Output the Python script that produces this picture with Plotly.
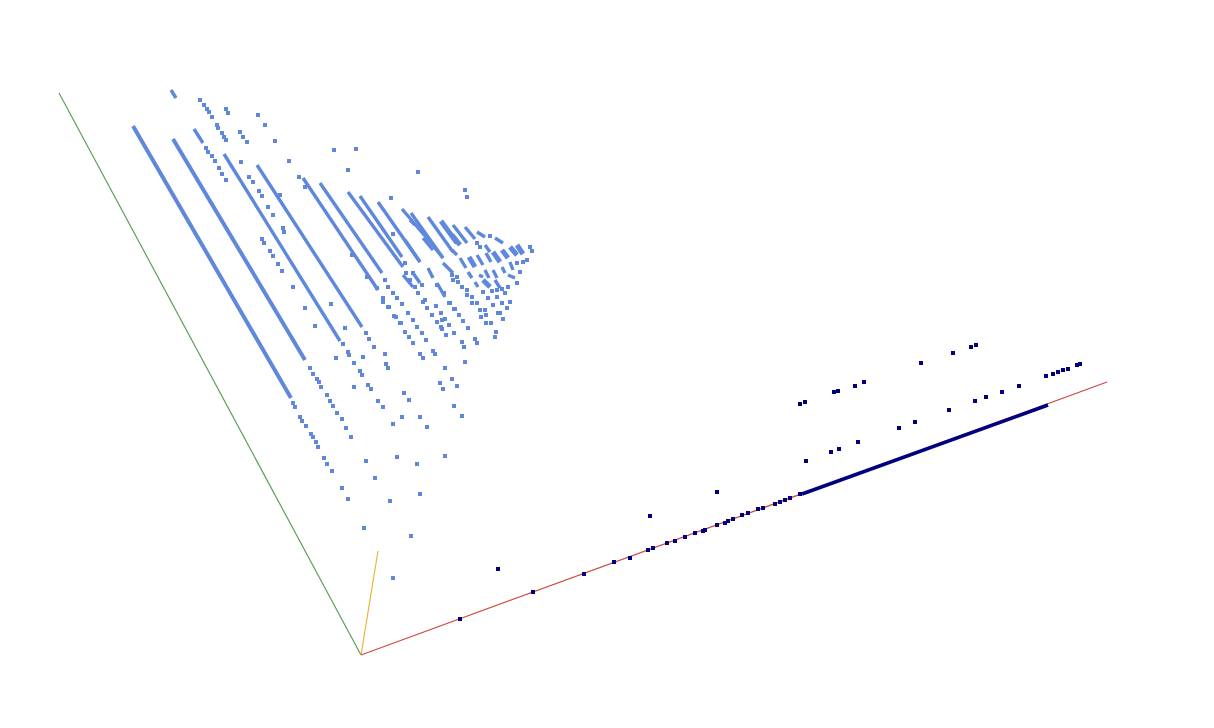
import plotly.graph_objects as go

# Values are the projected (screen-plane) coordinates of the points
axis_origin = (361, 655)
axis_x_end = (1107, 382)
axis_y_end = (59, 93)
axis_z_end = (378, 551)

thick_x = [133, 291, None, 173, 305, None]
thick_y = [126, 398, None, 139, 360, None]

streak_x = [224, 340, None, 257, 362, None, 303, 378, None, 320, 382, None, 348, 403, None, 360, 402, None,
            378, 420, None, 402, 437, None, 411, 443, None, 428, 453, None, 194, 203, None, 171, 176, None,
            453, 467, None, 465, 475, None, 477, 485, None, 495, 503, None, 485, 490, None,
            460, 466, None, 477, 483, None, 486, 491, None,
            468, 472, None, 485, 489, None, 493, 497, None, 502, 505, None,
            510, 513, None, 479, 483, None, 475, 478, None, 495, 500, None, 508, 515, None,
            443, 453, None, 428, 433, None,
            423, 433, None, 435, 443, None, 410, 415, None, 405, 420, None, 403, 413, None,
            413, 420, None, 437, 445, None, 452, 457, None]
streak_y = [154, 341, None, 165, 327, None, 178, 290, None, 183, 273, None, 192, 267, None, 196, 257, None,
            202, 262, None, 209, 250, None, 213, 258, None, 217, 252, None, 129, 143, None, 90, 98, None,
            225, 243, None, 227, 239, None, 232, 237, None, 238, 243, None, 245, 252, None,
            258, 268, None, 255, 265, None, 253, 262, None,
            272, 278, None, 270, 278, None, 270, 278, None, 267, 273, None,
            262, 270, None, 275, 277, None, 282, 287, None, 280, 288, None, 275, 278, None,
            263, 273, None, 268, 278, None,
            238, 250, None, 248, 258, None, 220, 225, None, 240, 262, None, 275, 287, None,
            273, 283, None, 283, 297, None, 250, 255, None]

blob_x = [441, 457, None, 452, 460, None, 469, 475, None, 493, 500, None, 502, 508, None, 510, 517, None,
          517, 523, None, 483, 490, None]
blob_y = [221, 243, None, 235, 245, None, 257, 267, None, 252, 262, None, 250, 258, None, 247, 255, None,
          245, 254, None, 280, 287, None]

light_x = [293, 295, 300, 302, 306, 311, 313, 316, 318, 324, 327, 332, 342, 348, 364,
           310, 313, 317, 319, 321, 327, 330, 333, 337, 342, 346, 351, 366, 375, 390, 411, 393,
           343, 348, 349, 354, 360, 362, 368, 371, 378, 383, 397, 417, 420, 445, 427, 420, 462, 454, 443, 440, 452, 457, 393, 402,
           366, 369, 374, 385, 386, 388, 404, 409, 363, 354, 336, 345, 315, 305, 331,
           200, 204, 207, 209, 212, 217, 218, 222, 224, 226, 226, 228, 258, 265, 275, 334, 240, 243, 247,
           206, 208, 212, 215, 219, 222, 226, 241, 249, 253, 259, 262, 268, 273, 283, 284, 262, 264, 270, 273, 278, 282, 293,
           289, 280, 299, 305, 356, 348, 418, 465, 467, 391, 345, 393, 352, 367,
           377, 383, 388, 394, 400, 405, 409, 413, 385, 388, 393, 397, 402, 408, 413, 417, 422, 426,
           406, 410, 415, 418, 425, 427, 436, 442, 405, 413, 422, 437, 444, 450, 454, 463, 468,
           445, 449, 442, 446, 454, 462, 475, 477, 496, 495,
           383, 389, 396, 401, 408, 423, 432, 436, 441, 449, 455, 459, 437, 441, 433, 435, 464, 465, 423, 420, 445,
           530, 532, 517, 523, 527, 520, 483, 492, 497, 502, 508, 517, 467, 472, 488, 497, 505, 472, 477, 493, 502, 510,
           480, 485, 500, 507, 481, 486, 498, 486, 491, 503, 452, 457, 453, 458, 462, 467, 490, 477, 480]
light_y = [403, 407, 417, 421, 426, 434, 437, 442, 447, 458, 464, 471, 488, 499, 528,
           368, 374, 379, 382, 387, 395, 401, 406, 413, 419, 428, 437, 461, 478, 501, 536, 578,
           344, 352, 355, 363, 371, 375, 385, 389, 401, 407, 457, 464, 494, 456, 427, 417, 416, 406, 389, 383, 379, 386, 424, 417,
           333, 339, 347, 354, 364, 368, 393, 400, 357, 387, 358, 328, 326, 308, 304,
           100, 105, 109, 112, 117, 125, 128, 133, 137, 140, 109, 113, 115, 125, 141, 150, 132, 137, 142,
           148, 152, 156, 161, 168, 174, 180, 162, 177, 182, 191, 196, 207, 215, 228, 232, 239, 243, 251, 256, 264, 271, 287,
           161, 195, 177, 187, 149, 170, 172, 190, 197, 198, 328, 234, 255, 277,
           288, 298, 307, 316, 323, 332, 337, 343, 280, 287, 293, 298, 304, 313, 320, 327, 333, 340,
           273, 280, 287, 293, 300, 308, 306, 320, 263, 273, 285, 285, 293, 303, 309, 321, 328,
           319, 325, 329, 335, 333, 342, 339, 343, 332, 337,
           302, 307, 317, 323, 313, 302, 315, 306, 313, 303, 309, 315, 322, 327, 351, 354, 347, 362, 358, 354, 368,
           247, 251, 263, 262, 260, 272, 292, 291, 290, 289, 287, 283, 295, 297, 298, 297, 293, 303, 303, 305, 303, 302,
           310, 310, 313, 308, 317, 315, 313, 323, 323, 319, 275, 277, 280, 282, 287, 290, 236, 243, 247]

axis_band_x = [802, 1048]
axis_band_y = [494, 405]

dark_x = [460, 533, 584, 614, 630, 648, 653, 667, 675, 685, 695, 703, 705, 717, 725, 728, 733,
          742, 748, 758, 763, 775, 780, 785, 790, 800,
          498, 650, 717,
          800, 805, 834, 838, 855, 864, 921, 953, 971, 976,
          806, 831, 839, 858, 899, 915, 949, 975, 986, 1002, 1019,
          1046, 1053, 1058, 1063, 1068, 1077, 1080]
dark_y = [619, 592, 574, 562, 558, 550, 548, 543, 541, 537, 533, 531, 530, 525, 523, 521, 519,
          515, 513, 509, 508, 504, 502, 500, 498, 494,
          569, 516, 492,
          404, 402, 392, 391, 386, 382, 363, 353, 347, 345,
          461, 452, 449, 442, 428, 422, 410, 401, 397, 392, 386,
          376, 374, 372, 370, 369, 365, 364]

BLUE = "#5f88dc"
NAVY = "#00007f"

fig = go.Figure()
for end, color in [(axis_y_end, "#5aa05a"), (axis_z_end, "#e8b53a"), (axis_x_end, "#cf4a3f")]:
    fig.add_trace(go.Scatter(x=[axis_origin[0], end[0]], y=[axis_origin[1], end[1]], mode="lines",
                             line=dict(color=color, width=1.2)))
fig.add_trace(go.Scatter(x=thick_x, y=thick_y, mode="lines", line=dict(color=BLUE, width=4)))
fig.add_trace(go.Scatter(x=streak_x, y=streak_y, mode="lines", line=dict(color=BLUE, width=3.4)))
fig.add_trace(go.Scatter(x=blob_x, y=blob_y, mode="lines", line=dict(color=BLUE, width=5)))
fig.add_trace(go.Scatter(x=light_x, y=light_y, mode="markers",
                         marker=dict(color=BLUE, size=4, symbol="square", line=dict(width=0))))
fig.add_trace(go.Scatter(x=axis_band_x, y=axis_band_y, mode="lines", line=dict(color=NAVY, width=3.5)))
fig.add_trace(go.Scatter(x=dark_x, y=dark_y, mode="markers",
                         marker=dict(color=NAVY, size=4, symbol="square", line=dict(width=0))))

fig.update_layout(
    width=1214, height=728, autosize=False, showlegend=False,
    margin=dict(l=0, r=0, t=0, b=0), paper_bgcolor="white", plot_bgcolor="white",
    xaxis=dict(range=[0, 1214], visible=False, fixedrange=True),
    yaxis=dict(range=[728, 0], visible=False, fixedrange=True),
)
fig.write_html("out.html", config={"displayModeBar": False},
               post_script="document.body.style.margin='0';document.documentElement.style.overflow='hidden';")
